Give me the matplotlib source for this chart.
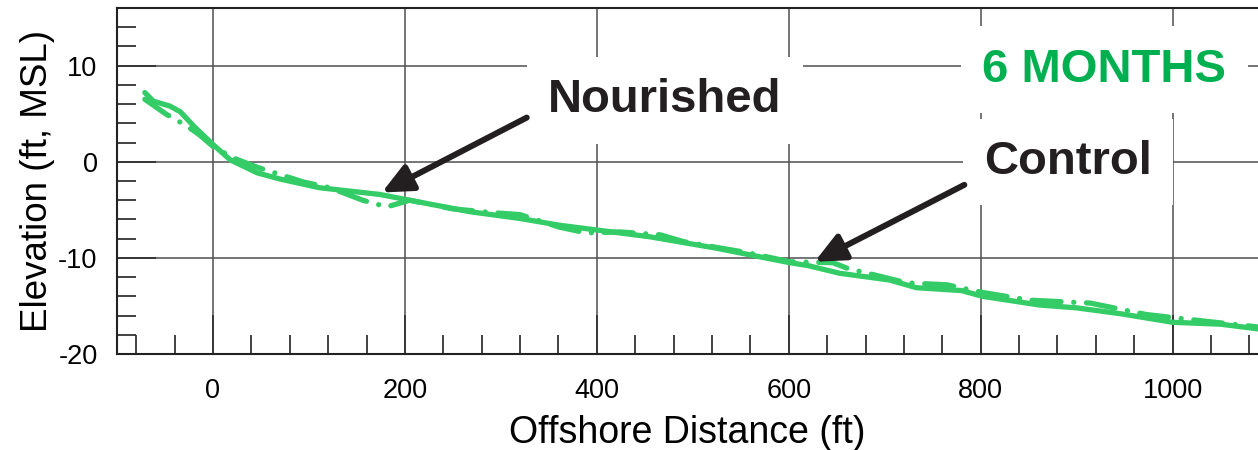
import numpy as np
import matplotlib
matplotlib.use("Agg")
import matplotlib.pyplot as plt
from matplotlib.ticker import MultipleLocator

plt.rcParams['font.family'] = ['Liberation Sans', 'DejaVu Sans']
plt.rcParams['axes.unicode_minus'] = False

# profile data (offshore distance ft, elevation ft MSL)
control_x = [-71, -62, -45, -34, -19, 0, 18, 46, 70, 111, 174, 205, 268, 320,
             361, 400, 455, 525, 601, 620, 653, 705, 733, 780, 802, 861, 900,
             945, 1000, 1050, 1090]
control_y = [7.2, 6.3, 5.8, 5.2, 3.6, 1.8, 0.2, -1.15, -1.8, -2.7, -3.4, -4.0,
             -5.2, -5.9, -6.6, -7.1, -7.8, -9.0, -10.5, -10.8, -11.6, -12.3,
             -13.1, -13.4, -14.0, -14.9, -15.2, -15.8, -16.7, -16.9, -17.4]

nourished_x = [-71, -48, -42, -21, -14, 0, 21, 47, 94, 122, 156, 167, 181, 205,
               250, 292, 320, 361, 389, 424, 466, 490, 559, 601, 646, 664, 674,
               723, 765, 802, 851, 914, 973, 1035, 1090]
nourished_y = [6.5, 4.9, 4.6, 3.3, 2.8, 1.6, 0.4, -0.6, -2.1, -2.7, -4.0, -4.3,
               -4.7, -4.0, -4.9, -5.3, -5.5, -6.8, -7.4, -7.3, -7.6, -8.3, -9.5,
               -10.4, -10.5, -11.2, -11.4, -12.6, -12.8, -13.6, -14.4, -14.7,
               -15.9, -16.6, -17.2]

green = '#33cc66'
ink = '#231f20'

fig = plt.figure(figsize=(12.58, 4.5), dpi=100)
ax = fig.add_axes([117 / 1258, 1 - 354 / 450, 1 - 117 / 1258, 346 / 450])

ax.plot(control_x, control_y, color=green, lw=3.8, solid_capstyle='round',
        solid_joinstyle='round', zorder=3)
ax.plot(nourished_x, nourished_y, color=green, lw=3.8,
        linestyle=(0, (5.5, 2.4, 0.01, 2.4)), dash_capstyle='round', zorder=3)

ax.set_xlim(-100, 1089)
ax.set_ylim(-20, 16)
ax.xaxis.set_major_locator(MultipleLocator(200))
ax.xaxis.set_minor_locator(MultipleLocator(40))
ax.yaxis.set_major_locator(MultipleLocator(10))
ax.yaxis.set_minor_locator(MultipleLocator(2))

ax.grid(True, which='major', color='#505050', lw=1.1)
ax.set_axisbelow(True)
ax.tick_params(which='both', direction='in', top=False, right=False,
               labelsize=19.5, color='#333333')
ax.tick_params(which='major', length=28, width=1.3)
ax.tick_params(which='minor', length=14, width=1.3)
ax.tick_params(axis='x', pad=17)
ax.tick_params(axis='y', pad=14)

for s in ['left', 'bottom', 'top']:
    ax.spines[s].set_color('#222222')
    ax.spines[s].set_linewidth(1.5)
ax.spines['right'].set_visible(False)

ax.set_xlabel('Offshore Distance (ft)', fontsize=27, labelpad=8)
ax.set_ylabel('Elevation (ft, MSL)', fontsize=26.5, labelpad=2)

box = dict(boxstyle='square,pad=0.45', fc='white', ec='none')
arrow = dict(arrowstyle='-|>,head_length=1.3,head_width=0.6', color=ink,
             lw=4.3, shrinkA=0, shrinkB=0, mutation_scale=14)

# labels with white boxes that break the grid
ax.text(471, 6.4, 'Nourished', fontsize=34, fontweight='bold', color=ink,
        ha='center', va='center', bbox=box, zorder=5)
ax.text(891, 0.0, 'Control', fontsize=34, fontweight='bold', color=ink,
        ha='center', va='center', bbox=box, zorder=5)
ax.text(929, 9.6, '6 MONTHS', fontsize=34, fontweight='bold', color='#00b050',
        ha='center', va='center', bbox=box, zorder=5)

# arrows from the labels to the profiles
ax.annotate('', xy=(176, -3.2), xytext=(327, 4.6), arrowprops=arrow, zorder=6)
ax.annotate('', xy=(627, -10.4), xytext=(783, -2.4), arrowprops=arrow, zorder=6)

fig.savefig('out.png', dpi=100)
